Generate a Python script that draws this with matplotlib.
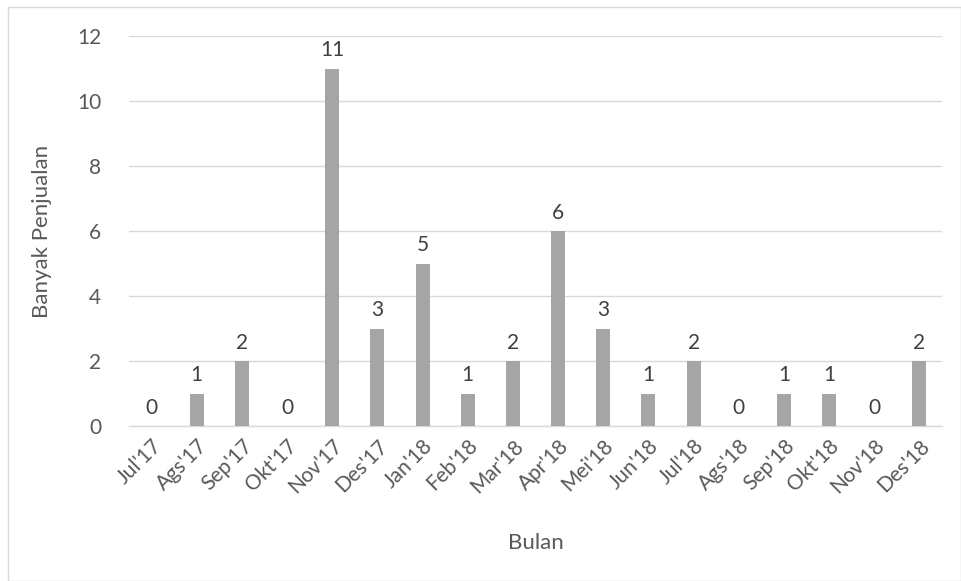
import matplotlib
matplotlib.use("Agg")
import matplotlib.pyplot as plt
from matplotlib.patches import Rectangle

months = ["Jul'17", "Ags'17", "Sep'17", "Okt'17", "Nov'17", "Des'17", "Jan'18",
          "Feb'18", "Mar'18", "Apr'18", "Mei'18", "Jun'18", "Jul'18", "Ags'18",
          "Sep'18", "Okt'18", "Nov'18", "Des'18"]
sales = [0, 1, 2, 0, 11, 3, 5, 1, 2, 6, 3, 1, 2, 0, 1, 1, 0, 2]
yticks = [0, 2, 4, 6, 8, 10, 12]

plt.rcParams['font.family'] = ['Lato', 'DejaVu Sans']
text_color = '#595959'

fig = plt.figure(figsize=(9.62, 5.81), dpi=100)
ax = fig.add_axes([129/962, 1 - 426/581, (942 - 129)/962, (426 - 36)/581])

x = list(range(len(months)))
ax.bar(x, sales, width=0.31, color='#a5a5a5', zorder=3)
for xi, v in zip(x, sales):
    ax.text(xi, v + 0.25, str(v), ha='center', va='bottom', fontsize=15, color='#404040')

ax.set_xlim(-0.5, len(months) - 0.5)
ax.set_ylim(0, 12)
ax.set_yticks(yticks)
ax.set_xticks(x)
ax.set_xticklabels(months, rotation=45, ha='right', rotation_mode='anchor')
ax.tick_params(axis='both', length=0, labelsize=15, colors=text_color)
ax.tick_params(axis='y', pad=20)
ax.tick_params(axis='x', pad=7)
ax.grid(axis='y', color='#d9d9d9', linewidth=1, zorder=0)
for s in ['top', 'right', 'left']:
    ax.spines[s].set_visible(False)
ax.spines['bottom'].set_color('#d9d9d9')
ax.spines['bottom'].set_linewidth(1)

ax.set_ylabel('Banyak Penjualan', fontsize=16, color=text_color, labelpad=18)
ax.set_xlabel('Bulan', fontsize=16, color=text_color, labelpad=26)

fig.patches.append(Rectangle((8/962, 0), 1 - 8/962 - 0.5/962, 1 - 7/581,
                             transform=fig.transFigure, fill=False,
                             edgecolor='#d9d9d9', linewidth=1))

fig.savefig('out.png', dpi=100)
